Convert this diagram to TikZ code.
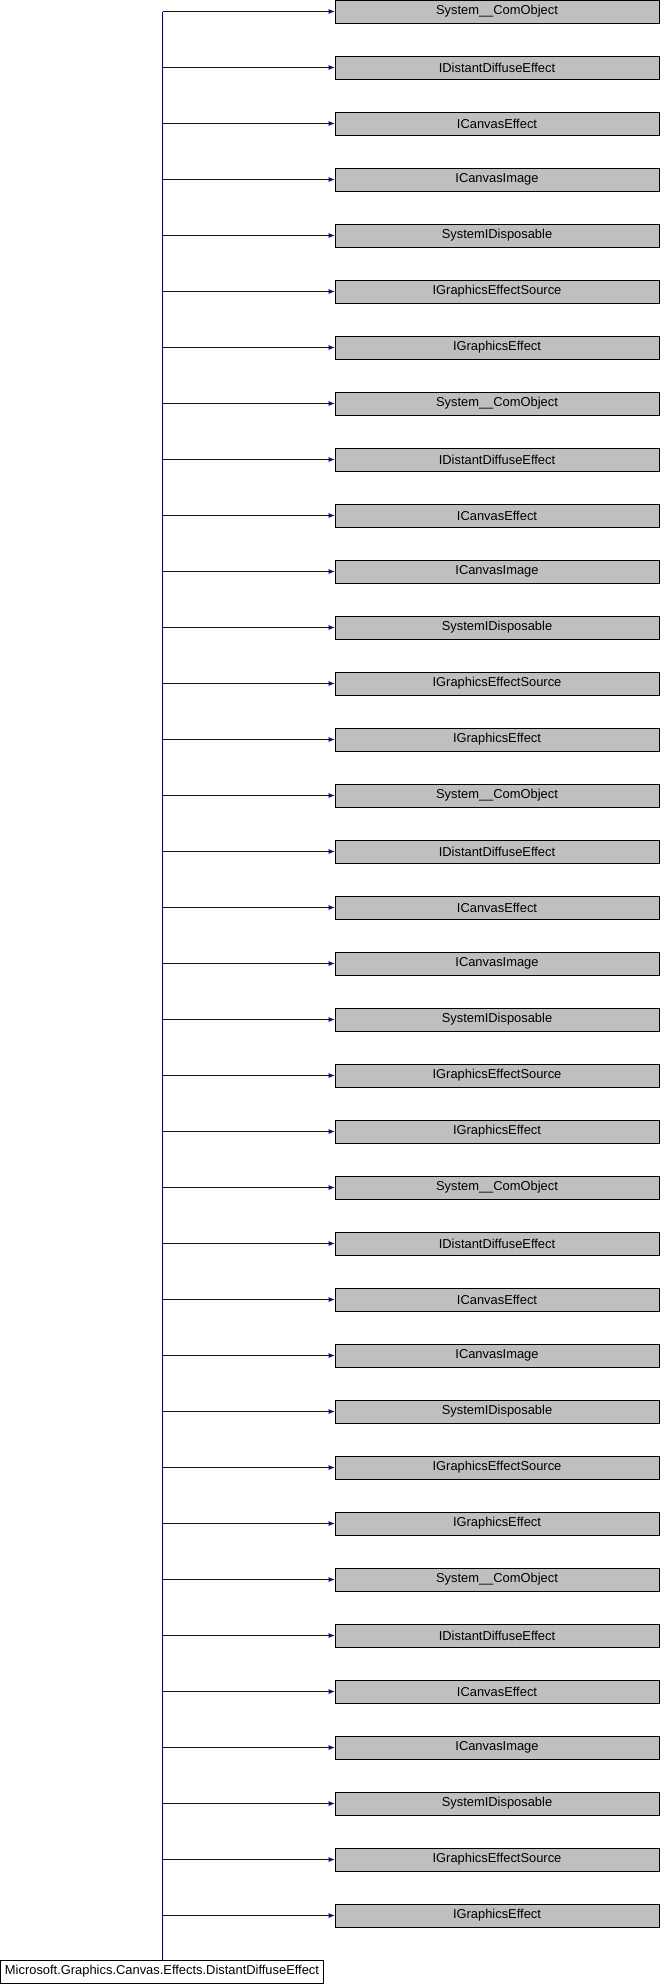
\documentclass[tikz,border=0pt]{standalone}
\usepackage{fontspec}
\setmainfont{Liberation Sans}
\usetikzlibrary{arrows.meta}
\definecolor{edgeblue}{RGB}{0,0,160}
\definecolor{boxgray}{RGB}{191,191,191}
\begin{document}
\begin{tikzpicture}[x=1pt,y=-1pt,
  base/.style={draw=black,fill=boxgray,minimum width=324pt,minimum height=23pt,inner sep=0pt,font=\fontsize{12.9}{14}\selectfont,line width=0.8pt},
  derived/.style={draw=black,fill=white,minimum width=323pt,minimum height=23pt,inner sep=0pt,font=\fontsize{12.9}{14}\selectfont,line width=0.8pt},
  inh/.style={draw=edgeblue,line width=0.8pt,-{Latex[length=6pt,width=5pt]}}]
\useasboundingbox (0,0) rectangle (660,1984);
\node[derived] (d) at (162,1971.5) {Microsoft.Graphics.Canvas.Effects.DistantDiffuseEffect};
\coordinate (top) at (162.5,11.5);
\foreach \i/\t in {0/System\_\_ComObject,1/IDistantDiffuseEffect,2/ICanvasEffect,3/ICanvasImage,4/SystemIDisposable,5/IGraphicsEffectSource,6/IGraphicsEffect,
 7/System\_\_ComObject,8/IDistantDiffuseEffect,9/ICanvasEffect,10/ICanvasImage,11/SystemIDisposable,12/IGraphicsEffectSource,13/IGraphicsEffect,
 14/System\_\_ComObject,15/IDistantDiffuseEffect,16/ICanvasEffect,17/ICanvasImage,18/SystemIDisposable,19/IGraphicsEffectSource,20/IGraphicsEffect,
 21/System\_\_ComObject,22/IDistantDiffuseEffect,23/ICanvasEffect,24/ICanvasImage,25/SystemIDisposable,26/IGraphicsEffectSource,27/IGraphicsEffect,
 28/System\_\_ComObject,29/IDistantDiffuseEffect,30/ICanvasEffect,31/ICanvasImage,32/SystemIDisposable,33/IGraphicsEffectSource,34/IGraphicsEffect} {
  \node[base] (b\i) at (497,11.5+56*\i) {\t};
  \coordinate (j\i) at (162.5,11.5+56*\i);
  \draw[inh] (j\i) -- (b\i.west);
}
\draw[edgeblue,line width=0.8pt] (top) -- (d.north -| top);
\end{tikzpicture}
\end{document}
